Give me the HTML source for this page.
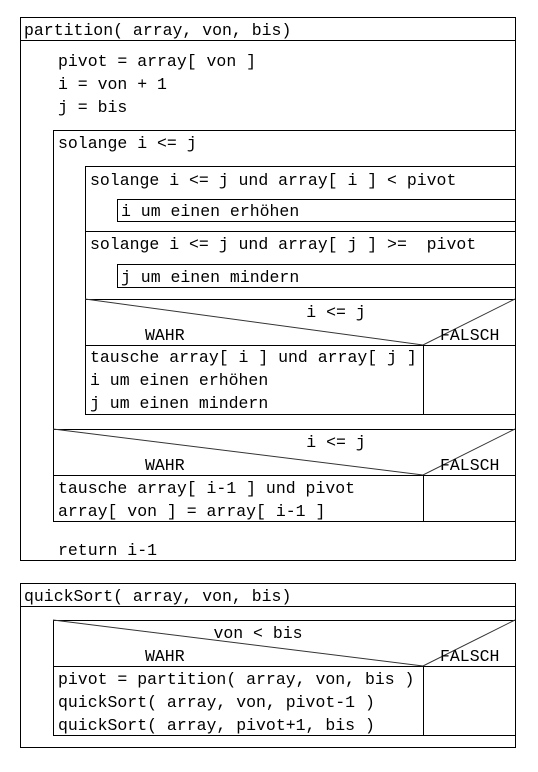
<!DOCTYPE html>
<html><head><meta charset="utf-8"><style>
body{margin:0;background:#fff;}
svg text{font-family:"Liberation Mono","Courier New",monospace;font-size:16.5px;fill:#000;white-space:pre;}
</style></head><body>
<svg width="538" height="767" xmlns="http://www.w3.org/2000/svg">
<g fill="none" stroke="#000" stroke-width="1">
<rect x="20.5" y="17.5" width="495" height="543"/>
<line x1="20" y1="40.5" x2="515" y2="40.5"/>
<rect x="53.5" y="130.5" width="462" height="391"/>
<rect x="85.5" y="166.5" width="430" height="65"/>
<rect x="117.5" y="199.5" width="398" height="22"/>
<rect x="85.5" y="231.5" width="430" height="68"/>
<rect x="117.5" y="264.5" width="398" height="23"/>
<rect x="85.5" y="299.5" width="430" height="115"/>
<line x1="85" y1="345.5" x2="515" y2="345.5"/>
<polyline points="85,299 423,345 515,299" stroke="#333"/>
<line x1="423.5" y1="345" x2="423.5" y2="414"/>
<line x1="53" y1="429.5" x2="515" y2="429.5"/>
<line x1="53" y1="475.5" x2="515" y2="475.5"/>
<polyline points="53,429 423,475 515,429" stroke="#333"/>
<line x1="423.5" y1="475" x2="423.5" y2="521"/>
<rect x="20.5" y="583.5" width="495" height="164"/>
<line x1="20" y1="606.5" x2="515" y2="606.5"/>
<rect x="53.5" y="620.5" width="462" height="115"/>
<line x1="53" y1="666.5" x2="515" y2="666.5"/>
<polyline points="53,620 423,666 515,620" stroke="#333"/>
<line x1="423.5" y1="666" x2="423.5" y2="735"/>
</g>
<text x="24" y="35">partition( array, von, bis)</text>
<text x="58" y="66">pivot = array[ von ]</text>
<text x="58" y="89">i = von + 1</text>
<text x="58" y="112">j = bis</text>
<text x="58" y="148">solange i &lt;= j</text>
<text x="90" y="185">solange i &lt;= j und array[ i ] &lt; pivot</text>
<text x="121" y="216">i um einen erhöhen</text>
<text x="90" y="249">solange i &lt;= j und array[ j ] &gt;=  pivot</text>
<text x="121" y="282">j um einen mindern</text>
<text x="336" y="317" text-anchor="middle">i &lt;= j</text>
<text x="145" y="340">WAHR</text>
<text x="440" y="340">FALSCH</text>
<text x="90" y="362">tausche array[ i ] und array[ j ]</text>
<text x="90" y="385">i um einen erhöhen</text>
<text x="90" y="408">j um einen mindern</text>
<text x="336" y="447" text-anchor="middle">i &lt;= j</text>
<text x="145" y="470">WAHR</text>
<text x="440" y="470">FALSCH</text>
<text x="58" y="493">tausche array[ i-1 ] und pivot</text>
<text x="58" y="516">array[ von ] = array[ i-1 ]</text>
<text x="58" y="555">return i-1</text>
<text x="24" y="601">quickSort( array, von, bis)</text>
<text x="258" y="638" text-anchor="middle">von &lt; bis</text>
<text x="145" y="661">WAHR</text>
<text x="440" y="661">FALSCH</text>
<text x="58" y="684">pivot = partition( array, von, bis )</text>
<text x="58" y="707">quickSort( array, von, pivot-1 )</text>
<text x="58" y="730">quickSort( array, pivot+1, bis )</text>
</svg>
</body></html>
